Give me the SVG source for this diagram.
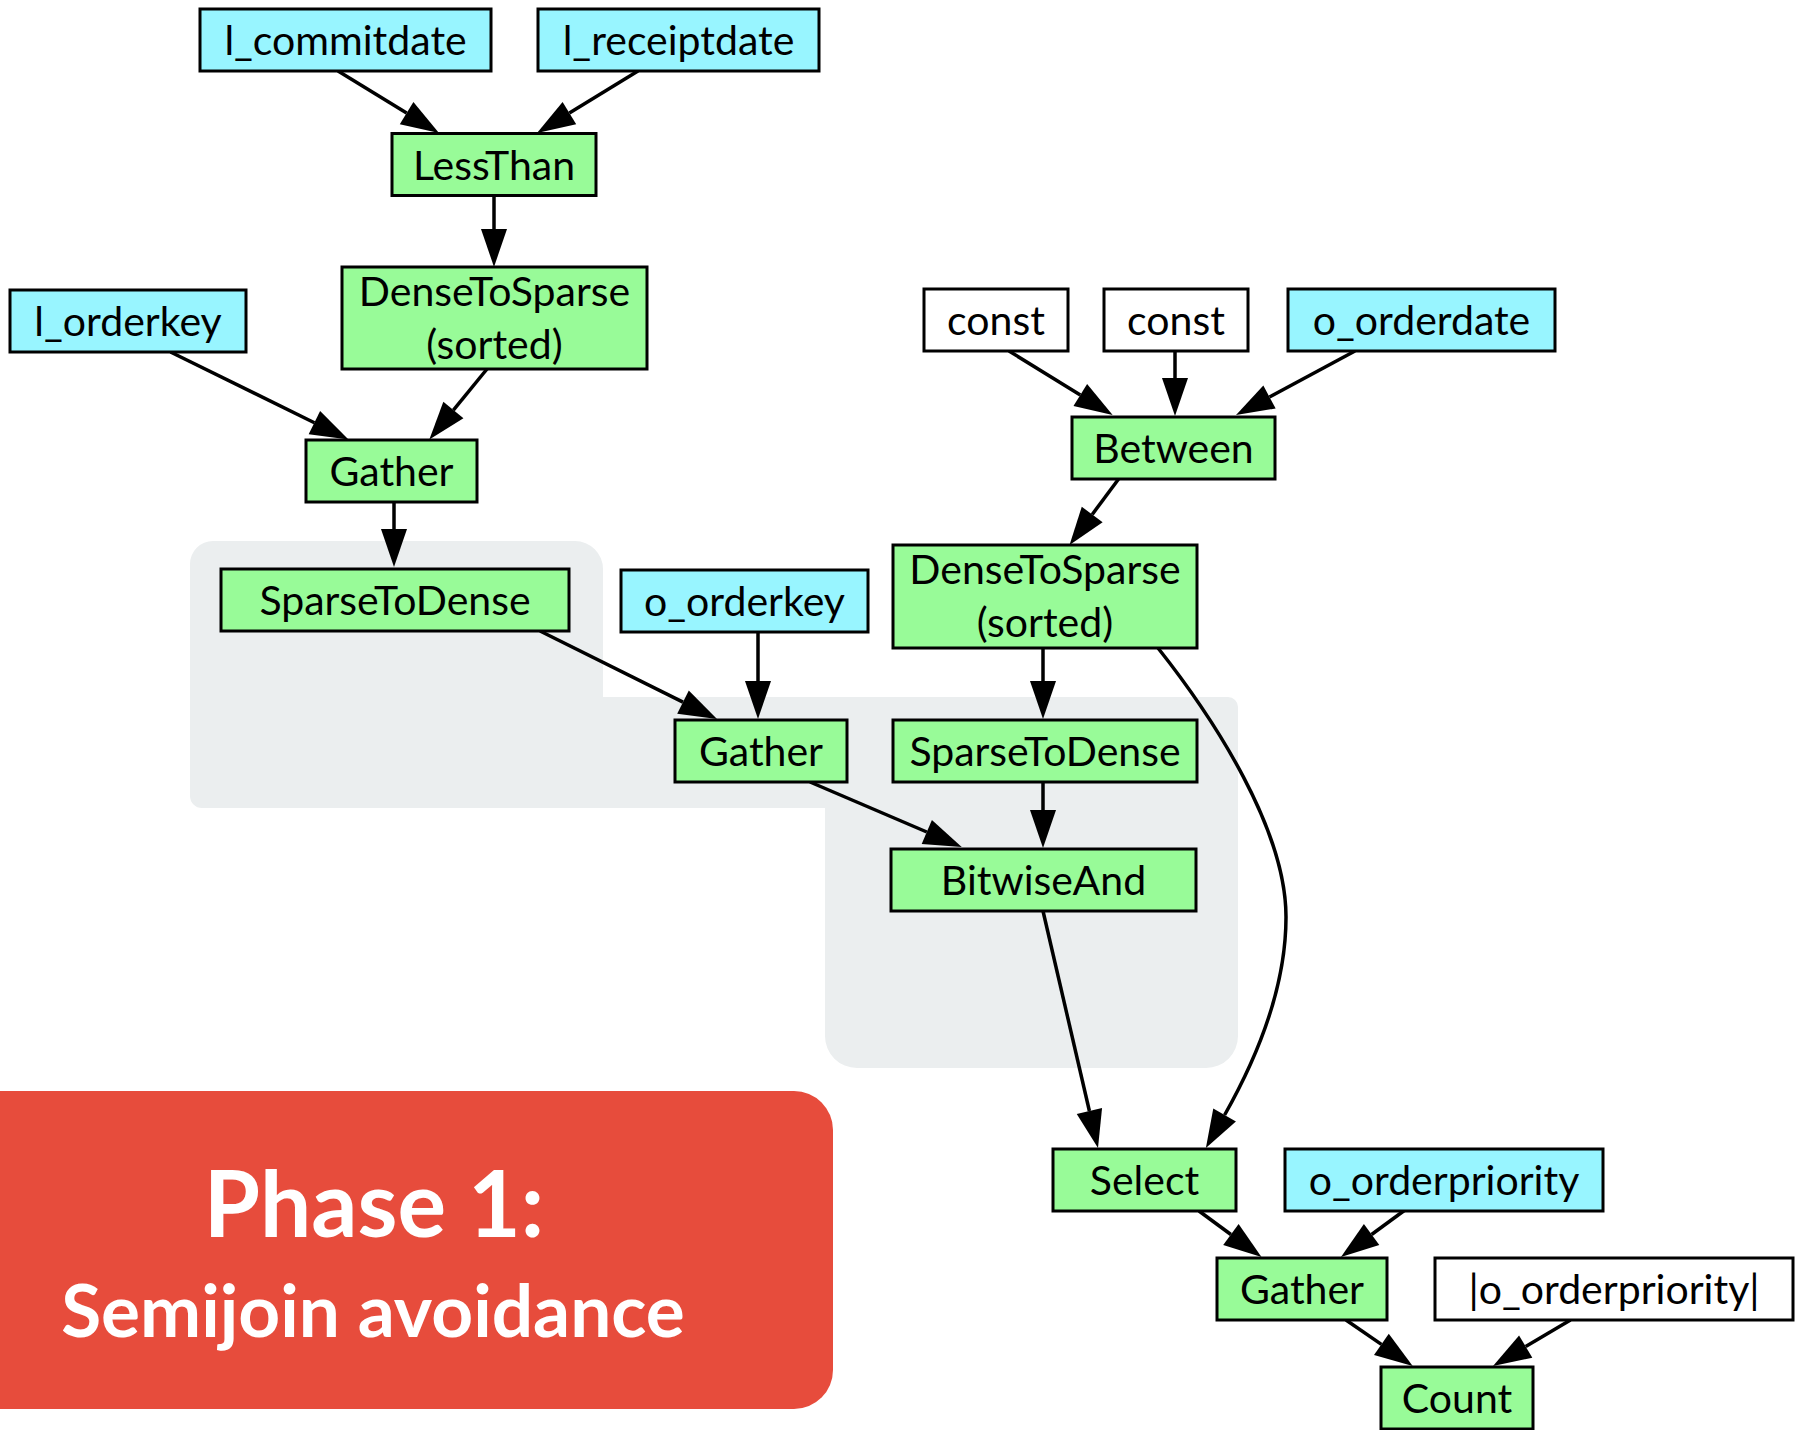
<svg xmlns="http://www.w3.org/2000/svg" width="1801" height="1430" viewBox="0 0 1801 1430">
<style>
.node rect{stroke:#000;stroke-width:3}
.cy{fill:#98f5ff}
.gr{fill:#98fb98}
.wh{fill:#fff}
.node text{font-family:Lato,"Liberation Sans",sans-serif;font-size:41px;text-anchor:middle;fill:#000}
.edges path{fill:none;stroke:#000;stroke-width:3.5;marker-end:url(#ah)}
.title{font-family:Lato,"Liberation Sans",sans-serif;font-weight:700;fill:#fff;text-anchor:middle}
</style>
<defs>
<marker id="ah" markerUnits="userSpaceOnUse" markerWidth="40" markerHeight="28" refX="0" refY="13" orient="auto" overflow="visible">
<path d="M0,0 L38,13 L0,26 Z" fill="#000"/>
</marker>
</defs>
<rect width="1801" height="1430" fill="#fff"/>
<path id="cluster" d="M213,541 H575 A28,28 0 0 1 603,569 V697 H1228 A10,10 0 0 1 1238,707 V1036 A32,32 0 0 1 1206,1068 H857 A32,32 0 0 1 825,1036 V808 H202 A12,12 0 0 1 190,796 V564 A23,23 0 0 1 213,541 Z" fill="#ebeeef"/>
<g id="phase">
<path d="M-10,1091 H794 A39,39 0 0 1 833,1130 V1370 A39,39 0 0 1 794,1409 H-10 Z" fill="#e74c3c"/>
<text class="title" x="374" y="1237" font-size="91">Phase 1:</text>
<text class="title" x="373" y="1337" font-size="73">Semijoin avoidance</text>
</g>
<g class="edges" id="edges">
<path d="M338,71 L406.6,113.1"/>
<path d="M638,71 L569.4,113.1"/>
<path d="M494,196 V229"/>
<path d="M487,369 L453.4,410.1"/>
<path d="M170.5,352 L314.4,422.7"/>
<path d="M394,502 V529"/>
<path d="M540,631 L683,702.1"/>
<path d="M758,632 V681"/>
<path d="M1118.6,479 L1092.2,514.5"/>
<path d="M1009,351 L1080.3,395"/>
<path d="M1175,351 V378"/>
<path d="M1355,351 L1269.5,397"/>
<path d="M1043,648 V681"/>
<path d="M1043,782 V810"/>
<path d="M810,782 L926.8,832"/>
<path d="M1043,911 L1089.4,1111"/>
<path d="M1158,648 C1215,720 1286,830 1286,917 C1286,990 1254,1063 1224.6,1115"/>
<path d="M1199,1211 L1230.9,1234.5"/>
<path d="M1405,1210 L1371.6,1234.5"/>
<path d="M1346,1320 L1381.4,1344.4"/>
<path d="M1570.5,1320 L1525.7,1346.6"/>
</g>
<g id="n_l_commitdate" class="node"><rect class="cy" x="200" y="9" width="291" height="62"/><text x="345.5" y="55">l_commitdate</text></g>
<g id="n_l_receiptdate" class="node"><rect class="cy" x="538" y="9" width="281" height="62"/><text x="678.5" y="55">l_receiptdate</text></g>
<g id="n_lessthan" class="node"><rect class="gr" x="392" y="133.5" width="204" height="62"/><text x="494" y="179.5">LessThan</text></g>
<g id="n_dts1" class="node"><rect class="gr" x="342" y="267" width="305" height="102"/><text x="494.5" y="306">DenseToSparse</text><text x="494.5" y="359">(sorted)</text></g>
<g id="n_l_orderkey" class="node"><rect class="cy" x="10" y="290" width="236" height="62"/><text x="128" y="336">l_orderkey</text></g>
<g id="n_gather1" class="node"><rect class="gr" x="306" y="440" width="171" height="62"/><text x="391.5" y="486">Gather</text></g>
<g id="n_const1" class="node"><rect class="wh" x="924" y="289" width="144" height="62"/><text x="996" y="335">const</text></g>
<g id="n_const2" class="node"><rect class="wh" x="1104" y="289" width="144" height="62"/><text x="1176" y="335">const</text></g>
<g id="n_o_orderdate" class="node"><rect class="cy" x="1288" y="289" width="267" height="62"/><text x="1421.5" y="335">o_orderdate</text></g>
<g id="n_between" class="node"><rect class="gr" x="1072" y="417" width="203" height="62"/><text x="1173.5" y="463">Between</text></g>
<g id="n_dts2" class="node"><rect class="gr" x="893" y="545" width="304" height="103"/><text x="1045" y="584">DenseToSparse</text><text x="1045" y="637">(sorted)</text></g>
<g id="n_std1" class="node"><rect class="gr" x="221" y="569" width="348" height="62"/><text x="395" y="615">SparseToDense</text></g>
<g id="n_o_orderkey" class="node"><rect class="cy" x="621" y="570" width="247" height="62"/><text x="744.5" y="616">o_orderkey</text></g>
<g id="n_gather2" class="node"><rect class="gr" x="675" y="720" width="172" height="62"/><text x="761" y="766">Gather</text></g>
<g id="n_std2" class="node"><rect class="gr" x="893" y="720" width="304" height="62"/><text x="1045" y="766">SparseToDense</text></g>
<g id="n_bitwiseand" class="node"><rect class="gr" x="891" y="849" width="305" height="62"/><text x="1043.5" y="895">BitwiseAnd</text></g>
<g id="n_select" class="node"><rect class="gr" x="1053" y="1149" width="183" height="62"/><text x="1144.5" y="1195">Select</text></g>
<g id="n_o_orderpriority" class="node"><rect class="cy" x="1285" y="1149" width="318" height="62"/><text x="1444" y="1195">o_orderpriority</text></g>
<g id="n_gather3" class="node"><rect class="gr" x="1217" y="1258" width="170" height="62"/><text x="1302" y="1304">Gather</text></g>
<g id="n_card" class="node"><rect class="wh" x="1435" y="1258" width="358" height="62"/><text x="1614" y="1304">|o_orderpriority|</text></g>
<g id="n_count" class="node"><rect class="gr" x="1381" y="1367" width="152" height="62"/><text x="1457" y="1413">Count</text></g>
</svg>
